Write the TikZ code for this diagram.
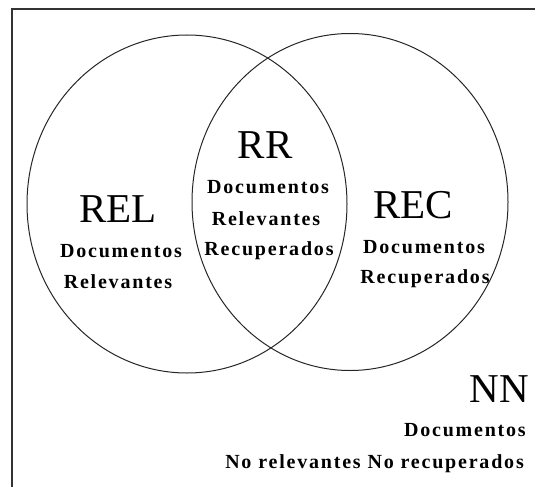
\documentclass[tikz,border=0pt]{standalone}
\usepackage{fontspec}
\usetikzlibrary{shapes.geometric}
\setmainfont{Liberation Serif}
\newfontfamily\smallbold[LetterSpace=9]{Liberation Serif Bold}
\begin{document}
\begin{tikzpicture}[x=1pt,y=-1pt,
  big/.style={inner sep=0pt,anchor=base,font=\fontsize{41}{41}\selectfont},
  small/.style={inner sep=0pt,anchor=base,font=\smallbold\fontsize{20}{20}\selectfont},
  smallr/.style={small,anchor=base east},
  set/.style={draw=black!85,line width=1pt,ellipse,inner sep=0pt}]
\useasboundingbox (0,0) rectangle (535,487);
\coordinate (bl) at (12,487);
\coordinate (tl) at (12,9);
\coordinate (tr) at (535,9);
\draw[line width=1.5pt,black!80] (bl) -- (tl) -- (tr);
\node[set,minimum width=320pt,minimum height=338pt] (rel) at (187,204) {};
\node[set,minimum width=316pt,minimum height=337pt] (rec) at (350,202) {};
\node[big] (relt) at (118,222) {REL};
\node[small] (rel1) at (121,257) {Documentos};
\node[small] (rel2) at (118,288) {Relevantes};
\node[big] (rrt) at (265,158) {RR};
\node[small] (rr1) at (268,193) {Documentos};
\node[small] (rr2) at (266,225) {Relevantes};
\node[small] (rr3) at (269,255) {Recuperados};
\node[big] (rect) at (413,218) {REC};
\node[small] (rec1) at (424,253) {Documentos};
\node[small] (rec2) at (425,283) {Recuperados};
\node[big,anchor=base east] (nnt) at (529,402) {NN};
\node[smallr] (nn1) at (526,436) {Documentos};
\node[smallr] (nn2) at (524,468) {No relevantes No recuperados};
\end{tikzpicture}
\end{document}
